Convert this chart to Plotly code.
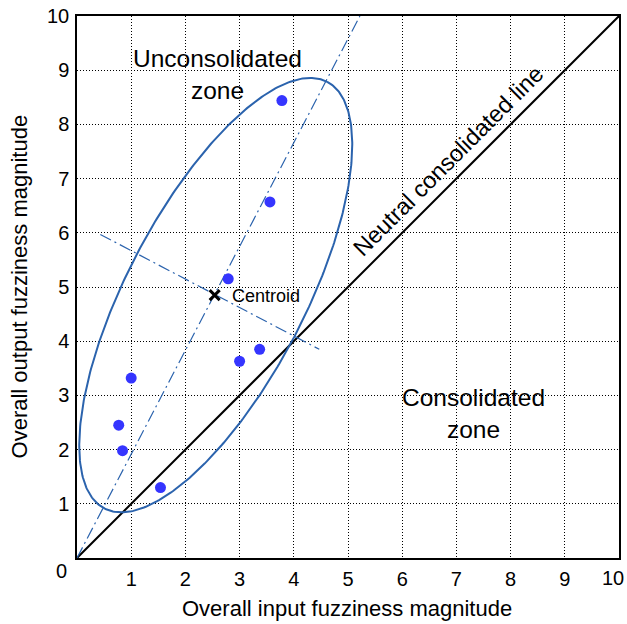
import numpy as np
import plotly.graph_objects as go

# Data
pts_x = [1.00, 0.77, 0.84, 1.54, 3.00, 3.37, 2.79, 3.56, 3.78]
pts_y = [3.32, 2.45, 1.98, 1.30, 3.63, 3.85, 5.15, 6.57, 8.44]
centroid_x = [2.54]
centroid_y = [4.85]
neutral_x = [0, 10]
neutral_y = [0, 10]
major_x = [0.0, 5.22]
major_y = [0.0, 10.0]
minor_x = [0.43, 4.47]
minor_y = [5.97, 3.85]
ell_center = (2.56, 4.85)
ell_a, ell_b, ell_angle_deg = 4.44, 1.64, 62.4
x_tick_vals = [1, 2, 3, 4, 5, 6, 7, 8, 9]
y_tick_vals = [1, 2, 3, 4, 5, 6, 7, 8, 9, 10]

t = np.linspace(0, 2 * np.pi, 400)
th = np.deg2rad(ell_angle_deg)
ex = ell_center[0] + ell_a * np.cos(th) * np.cos(t) - ell_b * np.sin(th) * np.sin(t)
ey = ell_center[1] + ell_a * np.sin(th) * np.cos(t) + ell_b * np.cos(th) * np.sin(t)

ell_color = "#2b63ad"
fig = go.Figure()
fig.add_trace(go.Scatter(x=neutral_x, y=neutral_y, mode="lines",
                         line=dict(color="black", width=2), hoverinfo="skip"))
fig.add_trace(go.Scatter(x=major_x, y=major_y, mode="lines",
                         line=dict(color=ell_color, width=1.2, dash="12px,4px,2px,4px")))
fig.add_trace(go.Scatter(x=minor_x, y=minor_y, mode="lines",
                         line=dict(color=ell_color, width=1.2, dash="12px,4px,2px,4px")))
fig.add_trace(go.Scatter(x=ex, y=ey, mode="lines", line=dict(color=ell_color, width=2)))
fig.add_trace(go.Scatter(x=pts_x, y=pts_y, mode="markers",
                         marker=dict(color="#3535ff", size=11)))
fig.add_trace(go.Scatter(x=centroid_x, y=centroid_y, mode="markers",
                         marker=dict(symbol="x-thin", size=10, line=dict(color="black", width=3))))

font = "Arial, Liberation Sans, sans-serif"
ann = [
    dict(x=2.60, y=8.92, text="Unconsolidated<br>zone", font=dict(size=24.5)),
    dict(x=7.32, y=2.67, text="Consolidated<br>zone", font=dict(size=24.5)),
    dict(x=6.85, y=7.32, text="Neutral consolidated line", font=dict(size=23.5), textangle=-45),
    dict(x=2.82, y=4.84, text="Centroid", font=dict(size=18), xanchor="left"),
]
for a in ann:
    a.update(xref="x", yref="y", showarrow=False)
    a["font"]["color"] = "black"
ann += [
    dict(x=-0.0277, y=-0.0235, text="0", font=dict(size=20, color="black")),
    dict(x=0.989, y=-0.037, text="10", font=dict(size=20, color="black")),
    dict(x=0.498, y=-0.093, text="Overall input fuzziness magnitude",
         font=dict(size=22, color="black")),
    dict(x=-0.107, y=0.501, text="Overall output fuzziness magnitude",
         textangle=-90, font=dict(size=22, color="black")),
]
for a in ann[4:]:
    a.update(xref="paper", yref="paper", showarrow=False, xanchor="center", yanchor="middle")
fig.layout.annotations = ann

axis_common = dict(range=[0, 10], showgrid=True, gridcolor="black",
                   gridwidth=1, griddash="1px,2px", showline=True, linecolor="black",
                   linewidth=1.5, mirror=True, ticks="", zeroline=False, automargin=False,
                   tickfont=dict(size=20, color="black"))
fig.update_xaxes(**axis_common, tickvals=x_tick_vals, ticklabelstandoff=2)
fig.update_yaxes(**axis_common, tickvals=y_tick_vals, ticklabelstandoff=2)
fig.update_layout(width=627, height=624, showlegend=False,
                  margin=dict(l=77, r=8, t=16, b=66),
                  plot_bgcolor="white", paper_bgcolor="white",
                  font=dict(family=font, color="black"))
fig.write_html("out.html")
